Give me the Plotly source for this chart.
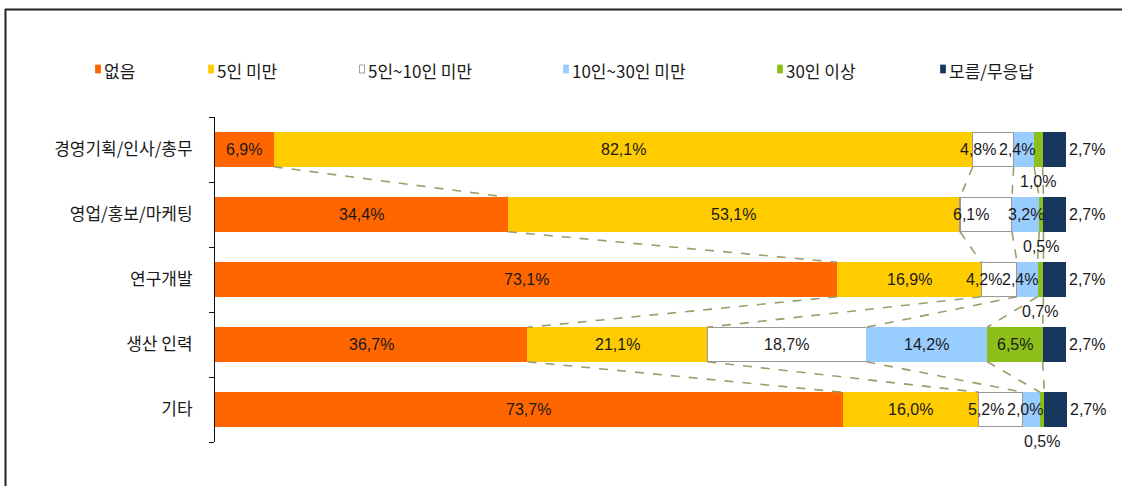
import plotly.graph_objects as go
import numpy as np

categories = ["경영기획/인사/총무", "영업/홍보/마케팅", "연구개발", "생산 인력", "기타"]
series_names = ["없음", "5인 미만", "5인~10인 미만", "10인~30인 미만", "30인 이상", "모름/무응답"]
none_vals = [6.9, 34.4, 73.1, 36.7, 73.7]
under5_vals = [82.1, 53.1, 16.9, 21.1, 16.0]
r5_10_vals = [4.8, 6.1, 4.2, 18.7, 5.2]
r10_30_vals = [2.4, 3.2, 2.4, 14.2, 2.0]
over30_vals = [1.0, 0.5, 0.7, 6.5, 0.5]
unknown_vals = [2.7, 2.7, 2.7, 2.7, 2.7]
series_values = [none_vals, under5_vals, r5_10_vals, r10_30_vals, over30_vals, unknown_vals]

colors = ["#FF6600", "#FFCC00", "#FFFFFF", "#99CCFF", "#8CBF1A", "#17375E"]
outline = ["rgba(0,0,0,0)", "rgba(0,0,0,0)", "#999999", "rgba(0,0,0,0)", "rgba(0,0,0,0)", "rgba(0,0,0,0)"]

W, H = 1122, 486
L, R, T, B = 215, 53, 117, 44
PW, PH = W - L - R, H - T - B
BAR_W = 0.53
X_MAX = 100.3

def px2x(p):
    return (p - L) / PW

def py2y(p):
    return (H - B - p) / PH

def fmt(v):
    return f"{v:.1f}".replace(".", ",") + "%"

ypos = list(range(len(categories)))
fig = go.Figure()

# series (dashed connector) lines
cum = np.cumsum(np.array(series_values), axis=0)  # shape (6, 5)
lx, ly = [], []
for k in range(len(series_names) - 1):
    for i in range(len(categories) - 1):
        lx += [cum[k][i], cum[k][i + 1], None]
        ly += [ypos[i] + BAR_W / 2, ypos[i + 1] - BAR_W / 2, None]
fig.add_trace(go.Scatter(x=lx, y=ly, mode="lines", showlegend=False, hoverinfo="skip",
                         line=dict(color="#9C9C6C", width=1.6, dash="dash")))

for s, name in enumerate(series_names):
    fig.add_trace(go.Bar(
        x=series_values[s], y=ypos, orientation="h", name=name, width=BAR_W,
        marker=dict(color=colors[s], line=dict(color=outline[s], width=1.2)),
        showlegend=False, hoverinfo="skip",
    ))

annotations = []
lab_font = dict(family="Liberation Sans, Arial", size=16, color="#1a1a1a")
for s in range(len(series_names)):
    for i in range(len(categories)):
        v = series_values[s][i]
        start = cum[s][i] - v
        center = start + v / 2
        if s == len(series_names) - 1:
            annotations.append(dict(x=min(float(cum[s][i]), X_MAX - 0.01), y=ypos[i], xref="x", yref="y",
                                    text=fmt(v), showarrow=False, xanchor="left", xshift=1, font=lab_font))
        elif s == 4 and v < 2:
            annotations.append(dict(x=center, y=ypos[i] + BAR_W / 2, xref="x", yref="y", text=fmt(v),
                                    showarrow=False, yanchor="top", yshift=-4, font=lab_font))
        else:
            shift = 0
            if s == 2 and v < 7:
                shift = -15
            elif s == 3 and v < 3:
                shift = -7
            annotations.append(dict(x=center, y=ypos[i], xref="x", yref="y", text=fmt(v),
                                    showarrow=False, xshift=shift, font=lab_font))

# custom legend
legend_px = [98, 211, 362, 566, 780, 943]
shapes = []
leg_y = 69
for s, name in enumerate(series_names):
    x0 = legend_px[s]
    shapes.append(dict(type="rect", xref="paper", yref="paper",
                       x0=px2x(x0 - 2.5), x1=px2x(x0 + 2.5), y0=py2y(leg_y + 4), y1=py2y(leg_y - 4),
                       fillcolor=colors[s], line=dict(color="#888888" if s == 2 else colors[s], width=0.8)))
    annotations.append(dict(x=px2x(x0 + 4), y=py2y(leg_y + 1), xref="paper", yref="paper", text=name,
                            showarrow=False, xanchor="left", yanchor="middle",
                            font=dict(family="Noto Sans CJK KR", size=17, color="#1a1a1a")))

# outer frame (top and left)
shapes.append(dict(type="line", xref="paper", yref="paper", x0=px2x(5), x1=px2x(W + 5),
                   y0=py2y(9.5), y1=py2y(9.5), line=dict(color="#222222", width=2)))
shapes.append(dict(type="line", xref="paper", yref="paper", x0=px2x(5.5), x1=px2x(5.5),
                   y0=py2y(9), y1=py2y(H + 5), line=dict(color="#222222", width=2)))

fig.update_layout(
    barmode="stack",
    width=W, height=H,
    margin=dict(l=L, r=R, t=T, b=B, pad=0),
    paper_bgcolor="white", plot_bgcolor="white",
    xaxis=dict(visible=False, range=[0, X_MAX], fixedrange=True),
    yaxis=dict(range=[len(categories) - 0.5, -0.5], tickmode="array", tickvals=ypos, ticktext=categories,
               ticks="", showline=True, linecolor="#111111", linewidth=1, showgrid=False, zeroline=False,
               ticklabelstandoff=18, fixedrange=True,
               tickfont=dict(family="Noto Sans CJK KR", size=17, color="#1a1a1a"),
               minor=dict(tickmode="array", tickvals=[i - 0.5 for i in range(len(categories) + 1)],
                          ticks="outside", ticklen=5, tickcolor="#111111", tickwidth=1, showgrid=False)),
    annotations=annotations,
    shapes=shapes,
    showlegend=False,
)

fig.write_html("out.html", config={"displayModeBar": False},
               post_script="document.body.style.margin='0';")
